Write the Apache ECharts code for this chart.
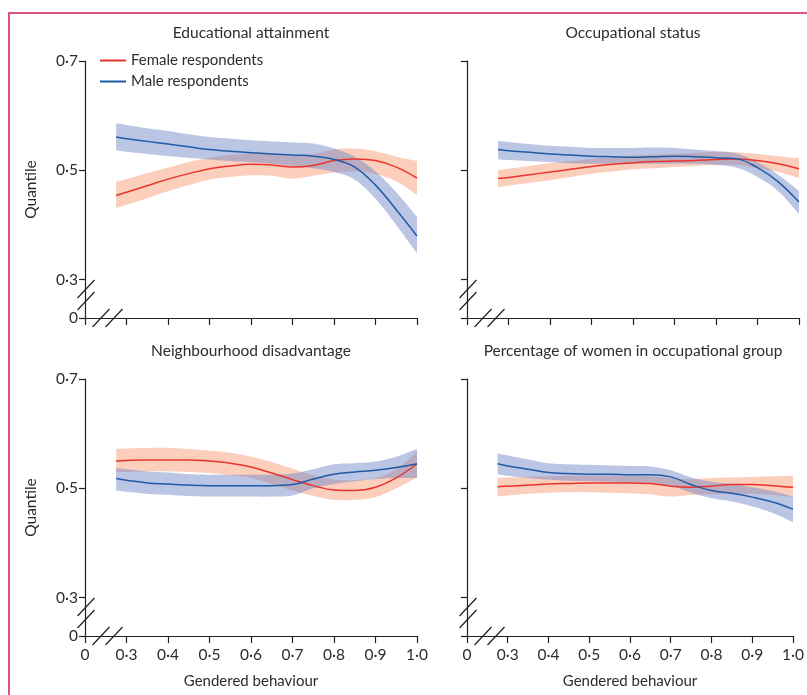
<!DOCTYPE html>
<html><head><meta charset="utf-8">
<script src="https://cdn.jsdelivr.net/npm/echarts@6/dist/echarts.min.js"></script>
<style>html,body{margin:0;padding:0;background:#fff}#c{width:807px;height:695px}</style>
</head><body><div id="c"></div>
<script>
// ---------------- data ----------------
const xValues = [0.275, 0.3, 0.35, 0.4, 0.45, 0.5, 0.55, 0.6, 0.65, 0.7, 0.75, 0.8, 0.85, 0.9, 0.95, 1.0];
const panelTitles = ['Educational attainment', 'Occupational status', 'Neighbourhood disadvantage', 'Percentage of women in occupational group'];
const seriesNames = ['Female respondents', 'Male respondents'];
const xTickLabels = ['0', '0·3', '0·4', '0·5', '0·6', '0·7', '0·8', '0·9', '1·0'];
const yTickValues = [0.23, 0.3, 0.5, 0.7];
const yTickLabels = ['0', '0·3', '0·5', '0·7'];

// Educational attainment
const eduFemale     = [0.454, 0.460, 0.472, 0.484, 0.494, 0.503, 0.508, 0.511, 0.510, 0.506, 0.509, 0.518, 0.521, 0.518, 0.506, 0.486];
const eduFemaleHigh = [0.479, 0.484, 0.495, 0.505, 0.515, 0.523, 0.528, 0.531, 0.530, 0.527, 0.530, 0.538, 0.540, 0.535, 0.525, 0.517];
const eduFemaleLow  = [0.431, 0.437, 0.449, 0.462, 0.473, 0.483, 0.488, 0.491, 0.490, 0.485, 0.490, 0.496, 0.498, 0.493, 0.480, 0.455];
const eduMale       = [0.561, 0.558, 0.553, 0.548, 0.543, 0.538, 0.535, 0.532, 0.530, 0.528, 0.526, 0.520, 0.506, 0.473, 0.428, 0.380];
const eduMaleHigh   = [0.586, 0.583, 0.577, 0.572, 0.566, 0.561, 0.558, 0.555, 0.553, 0.551, 0.549, 0.540, 0.525, 0.498, 0.460, 0.415];
const eduMaleLow    = [0.537, 0.534, 0.530, 0.526, 0.523, 0.520, 0.517, 0.515, 0.512, 0.508, 0.504, 0.497, 0.483, 0.448, 0.400, 0.348];

// Occupational status
const occFemale     = [0.485, 0.487, 0.492, 0.497, 0.502, 0.507, 0.511, 0.514, 0.516, 0.517, 0.518, 0.520, 0.521, 0.518, 0.512, 0.503];
const occFemaleHigh = [0.500, 0.503, 0.508, 0.513, 0.517, 0.521, 0.524, 0.527, 0.529, 0.530, 0.532, 0.534, 0.533, 0.530, 0.526, 0.522];
const occFemaleLow  = [0.469, 0.472, 0.477, 0.482, 0.488, 0.494, 0.498, 0.502, 0.504, 0.506, 0.508, 0.510, 0.510, 0.504, 0.497, 0.486];
const occMale       = [0.538, 0.536, 0.533, 0.530, 0.528, 0.526, 0.525, 0.524, 0.525, 0.526, 0.525, 0.523, 0.521, 0.505, 0.479, 0.442];
const occMaleHigh   = [0.554, 0.552, 0.548, 0.545, 0.543, 0.541, 0.541, 0.541, 0.542, 0.541, 0.538, 0.535, 0.531, 0.515, 0.492, 0.462];
const occMaleLow    = [0.520, 0.519, 0.517, 0.515, 0.513, 0.512, 0.512, 0.512, 0.512, 0.512, 0.512, 0.510, 0.505, 0.488, 0.462, 0.420];

// Neighbourhood disadvantage
const nbhFemale     = [0.550, 0.551, 0.552, 0.552, 0.552, 0.550, 0.546, 0.539, 0.528, 0.516, 0.505, 0.497, 0.496, 0.502, 0.519, 0.545];
const nbhFemaleHigh = [0.572, 0.573, 0.574, 0.574, 0.572, 0.569, 0.565, 0.558, 0.548, 0.536, 0.524, 0.516, 0.515, 0.519, 0.535, 0.567];
const nbhFemaleLow  = [0.530, 0.530, 0.531, 0.531, 0.530, 0.528, 0.524, 0.519, 0.508, 0.496, 0.486, 0.479, 0.479, 0.484, 0.500, 0.520];
const nbhMale       = [0.518, 0.515, 0.510, 0.508, 0.506, 0.505, 0.505, 0.505, 0.505, 0.507, 0.517, 0.526, 0.530, 0.533, 0.538, 0.545];
const nbhMaleHigh   = [0.537, 0.535, 0.531, 0.529, 0.526, 0.525, 0.525, 0.525, 0.525, 0.527, 0.535, 0.544, 0.546, 0.549, 0.558, 0.572];
const nbhMaleLow    = [0.496, 0.494, 0.490, 0.488, 0.486, 0.485, 0.485, 0.485, 0.485, 0.487, 0.500, 0.508, 0.513, 0.517, 0.519, 0.519];

// Percentage of women in occupational group
const pctFemale     = [0.503, 0.504, 0.506, 0.508, 0.509, 0.510, 0.510, 0.510, 0.509, 0.504, 0.502, 0.504, 0.507, 0.507, 0.505, 0.502];
const pctFemaleHigh = [0.519, 0.520, 0.521, 0.522, 0.523, 0.523, 0.523, 0.523, 0.522, 0.519, 0.517, 0.519, 0.520, 0.521, 0.522, 0.523];
const pctFemaleLow  = [0.485, 0.487, 0.490, 0.492, 0.493, 0.493, 0.492, 0.491, 0.489, 0.485, 0.488, 0.489, 0.490, 0.490, 0.488, 0.484];
const pctMale       = [0.545, 0.541, 0.535, 0.529, 0.527, 0.526, 0.526, 0.525, 0.525, 0.521, 0.507, 0.496, 0.491, 0.484, 0.475, 0.462];
const pctMaleHigh   = [0.564, 0.560, 0.553, 0.546, 0.544, 0.543, 0.542, 0.541, 0.540, 0.533, 0.520, 0.512, 0.508, 0.502, 0.495, 0.485];
const pctMaleLow    = [0.526, 0.523, 0.519, 0.516, 0.514, 0.513, 0.512, 0.511, 0.510, 0.505, 0.492, 0.482, 0.476, 0.467, 0.455, 0.438];

const panels = [
  { f: eduFemale, fH: eduFemaleHigh, fL: eduFemaleLow, m: eduMale, mH: eduMaleHigh, mL: eduMaleLow },
  { f: occFemale, fH: occFemaleHigh, fL: occFemaleLow, m: occMale, mH: occMaleHigh, mL: occMaleLow },
  { f: nbhFemale, fH: nbhFemaleHigh, fL: nbhFemaleLow, m: nbhMale, mH: nbhMaleHigh, mL: nbhMaleLow },
  { f: pctFemale, fH: pctFemaleHigh, fL: pctFemaleLow, m: pctMale, mH: pctMaleHigh, mL: pctMaleLow }
];

// ---------------- styling / layout ----------------
const FONT = 'Lato';
const TXT = '#2e2c2d';
const AX = '#231f20';
const RED = '#e8342c';
const BLUE = '#1f5ba6';
const RED_BAND = 'rgba(248,150,112,0.47)';
const BLUE_BAND = 'rgba(112,135,198,0.48)';
const grids = [
  { left: 85, top: 61, width: 332, height: 257 },
  { left: 467, top: 61, width: 332, height: 257 },
  { left: 85, top: 379, width: 332, height: 257 },
  { left: 467, top: 379, width: 332, height: 257 }
];

const chart = echarts.init(document.getElementById('c'), null, { renderer: 'canvas' });

const pairs = arr => xValues.map((x, i) => [x, arr[i]]);

// Catmull-Rom resampling of pixel points (for smooth band edges)
function smoothPts(pts, steps) {
  const out = [];
  for (let i = 0; i < pts.length - 1; i++) {
    const p0 = pts[i - 1] || pts[i], p1 = pts[i], p2 = pts[i + 1], p3 = pts[i + 2] || pts[i + 1];
    for (let s = 0; s < steps; s++) {
      const t = s / steps, t2 = t * t, t3 = t2 * t;
      const f = k => 0.5 * ((2 * p1[k]) + (-p0[k] + p2[k]) * t + (2 * p0[k] - 5 * p1[k] + 4 * p2[k] - p3[k]) * t2 + (-p0[k] + 3 * p1[k] - 3 * p2[k] + p3[k]) * t3);
      out.push([f(0), f(1)]);
    }
  }
  out.push(pts[pts.length - 1]);
  return out;
}

function bandSeries(i, lo, hi, color, key) {
  return {
    type: 'custom', name: key + i, xAxisIndex: i, yAxisIndex: i, silent: true, z: 1,
    data: xValues.map((x, k) => [x, lo[k], hi[k]]),
    encode: { x: 0, y: [1, 2] },
    renderItem: (params, api) => {
      if (params.dataIndex !== 0) return null;
      const up = xValues.map((x, k) => api.coord([x, hi[k]]));
      const dn = xValues.map((x, k) => api.coord([x, lo[k]]));
      const pts = smoothPts(up, 12).concat(smoothPts(dn, 12).reverse());
      return { type: 'polygon', shape: { points: pts }, style: { fill: color }, silent: true };
    }
  };
}

const xAxes = [], yAxes = [], series = [], titles = [];
grids.forEach((g, i) => {
  const bottomRow = i >= 2;
  const leftCol = i % 2 === 0;
  xAxes.push({
    type: 'value', gridIndex: i, min: 0.2, max: 1.0, interval: 0.1,
    axisLine: { show: true, lineStyle: { color: AX, width: 1.2 } },
    axisTick: { show: true, length: 7, lineStyle: { color: AX, width: 1.2 } },
    splitLine: { show: false },
    axisLabel: {
      show: bottomRow, margin: 11, color: TXT, fontFamily: FONT, fontSize: 15.5,
      formatter: v => xTickLabels[Math.round(v * 10) - 2]
    },
    name: bottomRow ? 'Gendered behaviour' : '',
    nameLocation: 'middle', nameGap: 38,
    nameTextStyle: { color: TXT, fontFamily: FONT, fontSize: 15 }
  });
  yAxes.push({
    type: 'value', gridIndex: i, min: 0.23, max: 0.7,
    axisLine: { show: true, lineStyle: { color: AX, width: 1.2 } },
    axisTick: { show: true, length: 6, customValues: yTickValues, lineStyle: { color: AX, width: 1.2 } },
    splitLine: { show: false },
    axisLabel: {
      show: leftCol, margin: 7, color: TXT, fontFamily: FONT, fontSize: 15.5,
      customValues: yTickValues,
      formatter: v => yTickLabels[yTickValues.findIndex(t => Math.abs(t - v) < 1e-6)]
    },
    name: leftCol ? 'Quantile' : '',
    nameLocation: 'middle', nameGap: 46,
    nameTextStyle: { color: TXT, fontFamily: FONT, fontSize: 15.5 }
  });
  titles.push({
    text: panelTitles[i], left: g.left + g.width / 2, top: g.top - 36, textAlign: 'center', padding: 0,
    textStyle: { color: TXT, fontFamily: FONT, fontSize: 15.5, fontWeight: 'normal' }
  });
  const p = panels[i];
  series.push(bandSeries(i, p.fL, p.fH, RED_BAND, 'fband'));
  series.push(bandSeries(i, p.mL, p.mH, BLUE_BAND, 'mband'));
  series.push({ type: 'line', name: seriesNames[0], xAxisIndex: i, yAxisIndex: i, data: pairs(p.f),
    smooth: 0.4, symbol: 'none', lineStyle: { color: RED, width: 1.5 }, itemStyle: { color: RED }, z: 3 });
  series.push({ type: 'line', name: seriesNames[1], xAxisIndex: i, yAxisIndex: i, data: pairs(p.m),
    smooth: 0.4, symbol: 'none', lineStyle: { color: BLUE, width: 1.5 }, itemStyle: { color: BLUE }, z: 3 });
});

chart.setOption({
  animation: false,
  backgroundColor: '#ffffff',
  title: titles,
  grid: grids,
  xAxis: xAxes,
  yAxis: yAxes,
  legend: {
    data: seriesNames, orient: 'vertical', left: 100, top: 53, padding: 0,
    itemGap: 6, itemWidth: 26, itemHeight: 2, icon: 'rect',
    textStyle: { color: TXT, fontFamily: FONT, fontSize: 15, lineHeight: 15 }
  },
  series: series
});

// decorations: figure border and axis break marks, positioned from the axes
const graphics = [{
  type: 'rect', silent: true, z: 100,
  shape: { x: 9, y: 13, width: 1000, height: 1000 },
  style: { fill: 'transparent', stroke: '#d9577f', lineWidth: 2 }
}];
grids.forEach((g, i) => {
  const o = chart.convertToPixel({ gridIndex: i }, [0.2, 0.23]);
  const ox = o[0], oy = o[1];
  const slash = (cx, cy) => ({
    type: 'line', silent: true, z: 100,
    shape: { x1: cx - 8.5, y1: cy + 9, x2: cx + 8.5, y2: cy - 9 },
    style: { stroke: AX, lineWidth: 1.2 }
  });
  graphics.push(slash(ox + 1, oy - 29), slash(ox + 1, oy - 17));
  graphics.push(slash(ox + 16, oy), slash(ox + 29, oy));
});
chart.setOption({ graphic: graphics });
</script>
</body></html>
